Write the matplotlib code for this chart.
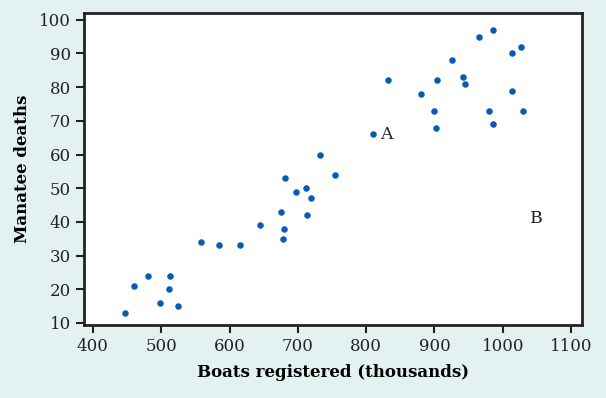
import matplotlib.pyplot as plt

# boats registered (thousands) vs manatee deaths
boats = [447, 460, 480, 498, 512, 513, 525, 559, 585, 615,
         645, 675, 678, 680, 681, 697, 712, 713, 719, 733,
         755, 810, 832, 880, 900, 902, 904, 925, 942, 945,
         965, 980, 985, 985, 1013, 1013, 1027, 1030]
deaths = [13, 21, 24, 16, 20, 24, 15, 34, 33, 33,
          39, 43, 35, 38, 53, 49, 50, 42, 47, 60,
          54, 66, 82, 78, 73, 68, 82, 88, 83, 81,
          95, 73, 97, 69, 90, 79, 92, 73]

labels = ['A', 'B']
label_x = [820, 1040]
label_y = [66, 41]

xticks = list(range(400, 1101, 100))
yticks = list(range(10, 101, 10))

plt.rcParams['font.family'] = 'DejaVu Serif'

fig = plt.figure(figsize=(6.06, 3.98), dpi=100, facecolor='#e4f1f1')
ax = fig.add_axes([0.1386, 0.1834, 0.8218, 0.7839])
ax.set_facecolor('white')

ax.scatter(boats, deaths, s=22, color='#0a5bb5', zorder=3, linewidths=0)

for t, x, y in zip(labels, label_x, label_y):
    ax.text(x, y, t, fontsize=12.5, va='center', ha='left', color='#222222')

ax.set_xlim(387, 1116)
ax.set_ylim(9.4, 102)
ax.set_xticks(xticks)
ax.set_yticks(yticks)
ax.tick_params(direction='out', length=6, width=1.5, labelsize=12, colors='#222222')
for s in ax.spines.values():
    s.set_linewidth(2)
    s.set_color('#222222')

ax.set_xlabel('Boats registered (thousands)', fontsize=12, fontweight='bold', labelpad=6)
ax.set_ylabel('Manatee deaths', fontsize=12, fontweight='bold', labelpad=6)

fig.savefig('out.png', dpi=100, facecolor=fig.get_facecolor())
